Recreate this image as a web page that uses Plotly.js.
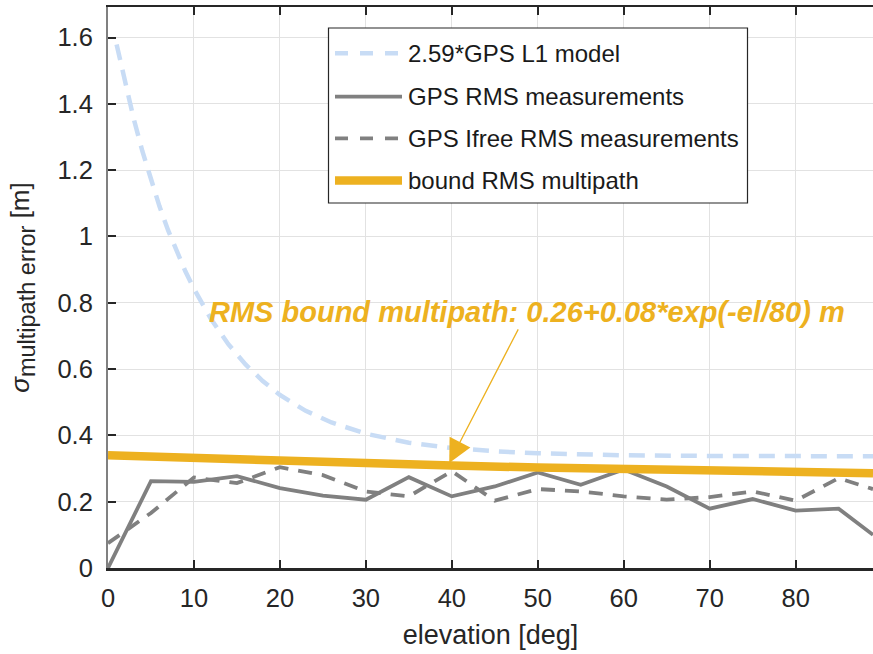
<!DOCTYPE html>
<html>
<head>
<meta charset="utf-8">
<script src="https://cdn.plot.ly/plotly-3.0.1.min.js"></script>
<style>
html,body{margin:0;padding:0;background:#fff;}
#chart{width:873px;height:654px;}
</style>
</head>
<body>
<div id="chart"></div>
<script>
// ---- data ----
const elevModel = [1,2,3,4,5,6,7,8,9,10,12,14,16,18,20,23,26,30,35,40,45,50,55,60,70,80,89];
const modelL1 = [1.579,1.461,1.354,1.257,1.169,1.090,1.018,0.953,0.895,0.842,0.750,0.675,0.614,0.564,0.522,0.474,0.439,0.405,0.378,0.362,0.352,0.346,0.342,0.340,0.338,0.337,0.337];

const elevMeas = [0,5,10,15,20,25,30,35,40,45,50,55,60,65,70,75,80,85,89];
const rmsMeas  = [0,0.262,0.260,0.277,0.241,0.218,0.206,0.274,0.216,0.246,0.288,0.251,0.297,0.246,0.179,0.208,0.173,0.179,0.100];
const ifreeMeas = [0.075,0.166,0.273,0.256,0.304,0.280,0.231,0.216,0.292,0.203,0.238,0.231,0.216,0.206,0.214,0.231,0.203,0.271,0.238];

const elevBound = [0,10,20,30,40,50,60,70,80,89];
const boundRMS  = [0.340,0.331,0.322,0.315,0.309,0.303,0.298,0.293,0.289,0.286];

const xTickVals = [0,10,20,30,40,50,60,70,80];
const xTickText = ['0','10','20','30','40','50','60','70','80'];
const yTickVals = [0,0.2,0.4,0.6,0.8,1,1.2,1.4,1.6];
const yTickText = ['0','0.2','0.4','0.6','0.8','1','1.2','1.4','1.6'];

const seriesNames = ['2.59*GPS L1 model','GPS RMS measurements','GPS Ifree RMS measurements','bound RMS multipath'];
const annText = 'RMS bound multipath: 0.26+0.08*exp(-el/80) m';
const arrowTip = [39.7, 0.317];

// ---- styles ----
const FONT = 'Liberation Sans, Arial, Helvetica, sans-serif';
const cBlue = '#c8dcf5', cGray = '#808080', cOrange = '#EDB120', cAxis = '#262626';

const traces = [
  {x: elevModel, y: modelL1, mode:'lines', name: seriesNames[0], line:{color:cBlue, width:4.5, dash:'16px,10px'}},
  {x: elevMeas, y: rmsMeas, mode:'lines', name: seriesNames[1], line:{color:cGray, width:3.8}},
  {x: elevMeas, y: ifreeMeas, mode:'lines', name: seriesNames[2], line:{color:cGray, width:3.8, dash:'14px,10px'}},
  {x: elevBound, y: boundRMS, mode:'lines', name: seriesNames[3], line:{color:cOrange, width:8.5}}
];

// custom legend (box, samples, labels) in paper coordinates
const L = 108, T = 7, W = 765, H = 561;
const px = v => (v - L) / W;
const py = v => (T + H - v) / H;
const rowsY = [53.3, 96.7, 138.3, 180.5];
const legendStyles = [
  {color:cBlue, width:4.5, dash:'13px,12px'},
  {color:cGray, width:3.8},
  {color:cGray, width:3.8, dash:'13px,12px'},
  {color:cOrange, width:8.5}
];
const shapes = [{
  type:'rect', xref:'paper', yref:'paper', layer:'above',
  x0:px(328.5), x1:px(747.5), y0:py(203), y1:py(28),
  fillcolor:'#ffffff', line:{color:cAxis, width:1.2}
}];
const annotations = [];
seriesNames.forEach((n,i)=>{
  shapes.push({type:'line', xref:'paper', yref:'paper', layer:'above',
    x0:px(335), x1:px(402), y0:py(rowsY[i]), y1:py(rowsY[i]), line:legendStyles[i]});
  annotations.push({xref:'paper', yref:'paper', x:px(406), y:py(rowsY[i]), xanchor:'left', yanchor:'middle',
    text:n, showarrow:false, font:{family:FONT, size:24, color:'#1a1a1a'}});
});
annotations.push({
  x: arrowTip[0], y: arrowTip[1], xref:'x', yref:'y',
  ax: 78, ay: -151, axref:'pixel', ayref:'pixel',
  text: '<b><i>' + annText + '</i></b>',
  showarrow: true, arrowhead: 2, arrowsize: 3.6, arrowwidth: 1.3, arrowcolor: cOrange, standoff: 0,
  font: {family: FONT, size: 29, color: cOrange}
});

const layout = {
  width: 873, height: 654,
  margin: {l: L, r: 0, t: T, b: 86},
  paper_bgcolor: '#ffffff', plot_bgcolor: '#ffffff',
  showlegend: false,
  font: {family: FONT, color: cAxis},
  xaxis: {
    range: [0, 89], tickvals: xTickVals, ticktext: xTickText,
    ticks: 'inside', ticklen: 8, tickwidth: 2, tickcolor: cAxis,
    showline: true, linecolor: cAxis, linewidth: 2.5, mirror: 'ticks',
    showgrid: true, gridcolor: '#e2e2e2', gridwidth: 1, zeroline: false,
    tickfont: {family: FONT, size: 25.5, color: cAxis}, ticklabelstandoff: 6,
    title: {text: 'elevation [deg]', font: {family: FONT, size: 27, color: cAxis}, standoff: 14}
  },
  yaxis: {
    range: [0, 1.692], tickvals: yTickVals, ticktext: yTickText,
    ticks: 'inside', ticklen: 8, tickwidth: 2, tickcolor: cAxis,
    showline: true, linecolor: '#808080', linewidth: 2, mirror: false,
    showgrid: true, gridcolor: '#e2e2e2', gridwidth: 1, zeroline: false,
    tickfont: {family: FONT, size: 25.5, color: cAxis}, ticklabelstandoff: 8,
    title: {text: '<i>σ</i><sub><span style="font-size:23.5px">multipath error</span></sub> [m]', font: {family: FONT, size: 26, color: cAxis}, standoff: 20}
  },
  shapes: shapes,
  annotations: annotations
};

Plotly.newPlot('chart', traces, layout, {displayModeBar: false, staticPlot: true});
</script>
</body>
</html>
